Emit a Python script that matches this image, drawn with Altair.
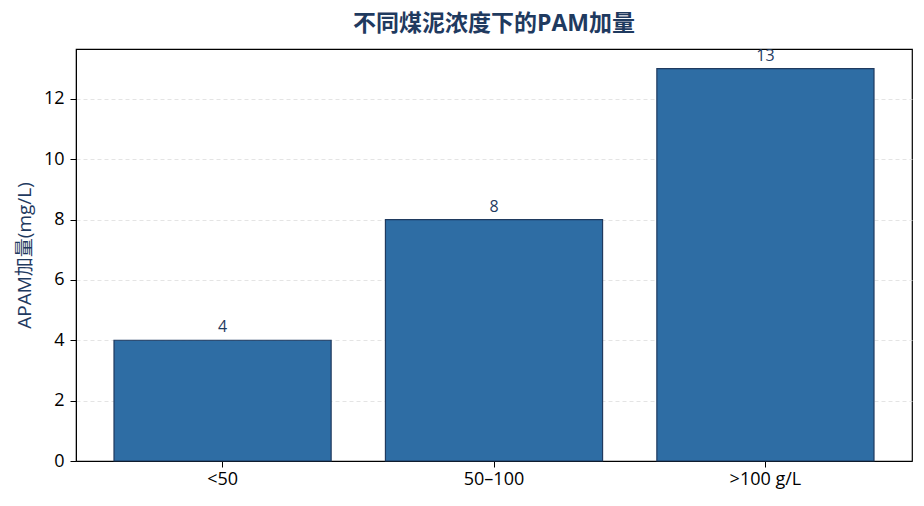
import altair as alt
import pandas as pd

categories = ["<50", "50–100", ">100 g/L"]
values = [4, 8, 13]
y_ticks = [0, 2, 4, 6, 8, 10, 12]

df = pd.DataFrame({"cat": categories, "val": values})

FONT = "'Open Sans', 'Noto Sans CJK SC', sans-serif"
NAVY = "#1f3a5f"

base = alt.Chart(df).encode(
    x=alt.X("cat:N", sort=categories,
            scale=alt.Scale(paddingInner=0.2, paddingOuter=0.14),
            axis=alt.Axis(title=None, labelAngle=0, labelFontSize=18, labelColor="black",
                          labelFont=FONT, tickColor="black", tickSize=6, domainColor="black",
                          labelPadding=3, grid=False)),
    y=alt.Y("val:Q", scale=alt.Scale(domain=[0, 13.65], nice=False, zero=True),
            axis=alt.Axis(title="APAM加量(mg/L)", values=y_ticks, labelFontSize=18,
                          labelColor="black", labelFont=FONT, tickColor="black", tickSize=6,
                          domainColor="black", labelPadding=6, titleFont=FONT,
                          titleFontSize=19, titleFontWeight="normal", titleColor=NAVY,
                          titlePadding=9, grid=True, gridColor="#dddddd",
                          gridDash=[4, 3], gridWidth=0.8)),
)

bars = base.mark_bar(color="#2e6da4", stroke=NAVY, strokeWidth=1.2)
labels = base.mark_text(baseline="alphabetic", dy=-8, fontSize=16, color=NAVY, font=FONT).encode(
    text=alt.Text("val:Q"))

chart = (bars + labels).properties(
    width=836, height=412,
    title=alt.TitleParams("不同煤泥浓度下的PAM加量", font=FONT, fontSize=23, fontWeight="bold",
                          color=NAVY, anchor="middle", offset=12),
    autosize=alt.AutoSizeParams(type="none"),
    padding={"left": 68, "top": 41, "right": 4, "bottom": 37},
).configure_view(stroke="black", strokeWidth=1.2)

chart.save("out.html", embed_options={"renderer": "svg", "actions": False})
